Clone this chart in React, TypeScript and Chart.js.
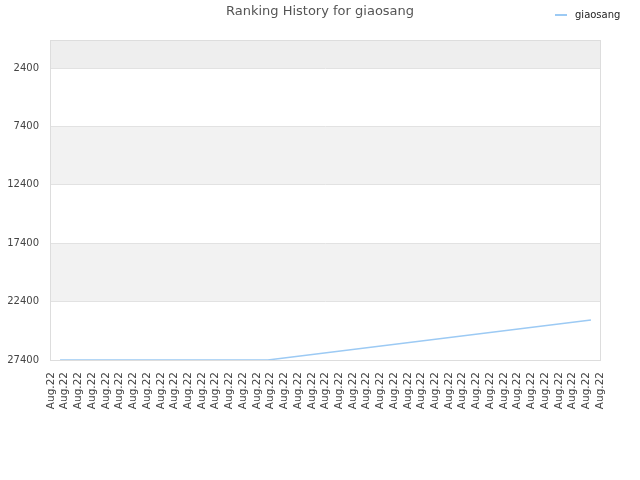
import { useEffect, useRef } from "react";
import { Chart, registerables } from "chart.js";

Chart.register(...registerables);

const TITLE = "Ranking History for giaosang";
const SERIES_NAME = "giaosang";
const xTickLabels: string[] = Array.from({ length: 41 }, () => "Aug.22");
const pointX = [0.66, 15.8, 39.34];
const rankValues = [27400, 27400, 23980];
const yTicks = [2400, 7400, 12400, 17400, 22400, 27400];
const Y_MIN = 0;
const Y_MAX = 27400;

const LINE_COLOR = "#9ccaf4";
const FONT = "'DejaVu Sans', sans-serif";

const decorPlugin = {
  id: "decor",
  beforeDraw(chart: any) {
    const { ctx, chartArea } = chart;
    const y = chart.scales.y;
    const bounds = [Y_MIN, ...yTicks];
    ctx.save();
    for (let i = 0; i < bounds.length - 1; i++) {
      if (i % 2 === 0) {
        const y1 = y.getPixelForValue(bounds[i]);
        const y2 = y.getPixelForValue(bounds[i + 1]);
        ctx.fillStyle = i === 0 ? "#eeeeee" : "#f2f2f2";
        ctx.fillRect(chartArea.left, Math.min(y1, y2), chartArea.right - chartArea.left, Math.abs(y2 - y1));
      }
    }
    ctx.restore();
  },
  beforeDatasetsDraw(chart: any) {
    const { ctx, chartArea } = chart;
    ctx.save();
    ctx.strokeStyle = "#dddddd";
    ctx.lineWidth = 1;
    ctx.strokeRect(
      Math.round(chartArea.left) - 0.5,
      Math.round(chartArea.top) + 0.5,
      Math.round(chartArea.right - chartArea.left) + 1,
      Math.round(chartArea.bottom - chartArea.top)
    );
    ctx.restore();
  },
  afterDraw(chart: any) {
    const { ctx } = chart;
    ctx.save();
    ctx.fillStyle = "#555555";
    ctx.font = `13px ${FONT}`;
    ctx.textAlign = "center";
    ctx.textBaseline = "middle";
    ctx.fillText(TITLE, chart.width / 2, 12);
    ctx.strokeStyle = LINE_COLOR;
    ctx.lineWidth = 2;
    ctx.beginPath();
    ctx.moveTo(555, 15);
    ctx.lineTo(567, 15);
    ctx.stroke();
    ctx.fillStyle = "#222222";
    ctx.font = `10px ${FONT}`;
    ctx.textAlign = "left";
    ctx.fillText(chart.data.datasets[0].label, 575, 15);
    ctx.restore();
  },
};

export default function App() {
  const ref = useRef<HTMLCanvasElement | null>(null);
  useEffect(() => {
    document.body.style.margin = "0";
    const chart = new Chart(ref.current as HTMLCanvasElement, {
      type: "line",
      data: {
        datasets: [
          {
            label: SERIES_NAME,
            data: pointX.map((x, i) => ({ x, y: rankValues[i] })),
            borderColor: LINE_COLOR,
            backgroundColor: LINE_COLOR,
            borderWidth: 1.5,
            pointRadius: 0,
            tension: 0,
            fill: false,
          },
        ],
      },
      options: {
        animation: false,
        responsive: false,
        layout: { padding: { top: 40, right: 40, left: 0, bottom: 0 } },
        plugins: {
          legend: { display: false },
          title: { display: false },
          tooltip: { enabled: false },
        },
        scales: {
          x: {
            type: "linear",
            min: 0,
            max: xTickLabels.length - 1,
            afterBuildTicks: (s: any) => {
              s.ticks = xTickLabels.map((_, i) => ({ value: i }));
            },
            afterFit: (s: any) => {
              s.height = 120;
            },
            grid: { display: false, drawTicks: false },
            border: { display: false },
            ticks: {
              autoSkip: false,
              minRotation: 90,
              maxRotation: 90,
              padding: 12,
              color: "#444444",
              font: { family: FONT, size: 10.5 },
              callback: (_v: any, i: number) => xTickLabels[i],
            },
          },
          y: {
            type: "linear",
            reverse: true,
            min: Y_MIN,
            max: Y_MAX,
            afterBuildTicks: (s: any) => {
              s.ticks = yTicks.map((v) => ({ value: v }));
            },
            afterFit: (s: any) => {
              s.width = 51;
            },
            grid: { color: "#e2e2e2", drawTicks: false },
            border: { display: false },
            ticks: {
              padding: 12,
              color: "#444444",
              font: { family: FONT, size: 10 },
              callback: (v: any) => String(v),
            },
          },
        },
      },
      plugins: [decorPlugin],
    });
    return () => chart.destroy();
  }, []);
  return (
    <div style={{ width: 640, height: 480 }}>
      <canvas ref={ref} width={640} height={480} />
    </div>
  );
}
